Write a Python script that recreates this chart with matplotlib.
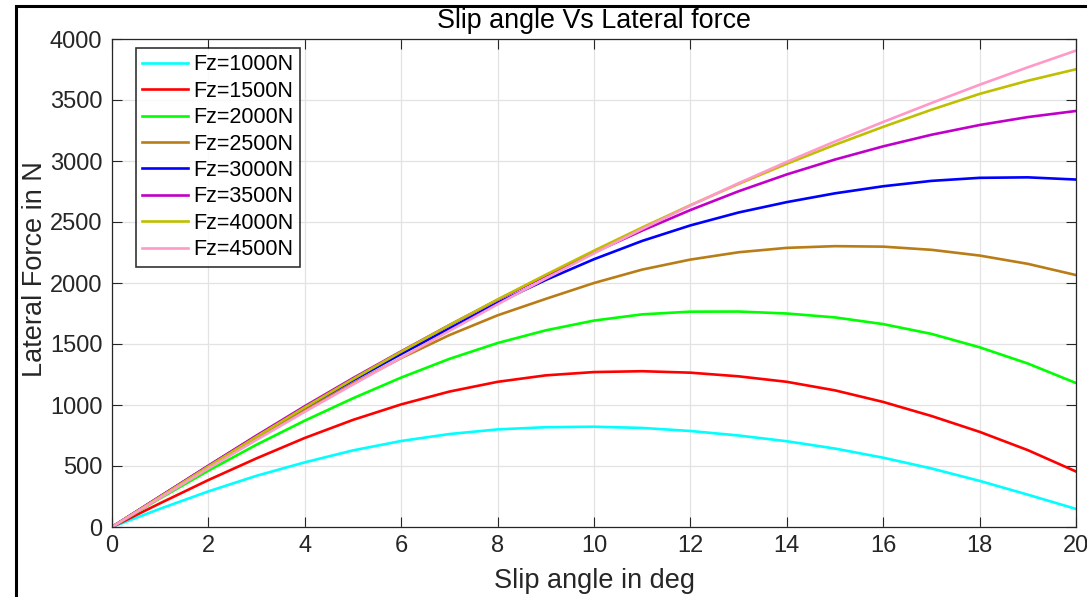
import numpy as np
import matplotlib
matplotlib.use("Agg")
import matplotlib.pyplot as plt
from matplotlib.patches import Rectangle

plt.rcParams['font.family'] = ['Liberation Sans', 'DejaVu Sans']

# slip angle in deg
slip = [0, 1, 2, 3, 4, 5, 6, 7, 8, 9, 10, 11, 12, 13, 14, 15, 16, 17, 18, 19, 20]

# lateral force in N for each vertical load
fy_1000 = [0, 150, 292, 420, 530, 628, 705, 762, 800, 818, 822, 812, 787, 750, 703, 643, 568, 480, 378, 265, 148]
fy_1500 = [0, 195, 385, 563, 730, 878, 1005, 1110, 1190, 1243, 1270, 1277, 1265, 1235, 1190, 1120, 1025, 910, 780, 630, 455]
fy_2000 = [0, 235, 462, 675, 872, 1055, 1225, 1378, 1508, 1612, 1692, 1743, 1765, 1766, 1750, 1718, 1663, 1583, 1473, 1340, 1180]
fy_2500 = [0, 248, 492, 730, 958, 1178, 1385, 1573, 1735, 1870, 2000, 2110, 2192, 2252, 2288, 2302, 2298, 2272, 2225, 2157, 2065]
fy_3000 = [0, 250, 500, 745, 980, 1203, 1418, 1628, 1838, 2025, 2195, 2345, 2472, 2578, 2663, 2735, 2793, 2837, 2862, 2866, 2848]
fy_3500 = [0, 252, 503, 750, 990, 1220, 1440, 1655, 1862, 2060, 2250, 2430, 2598, 2752, 2890, 3012, 3120, 3215, 3295, 3360, 3410]
fy_4000 = [0, 248, 496, 740, 980, 1212, 1437, 1655, 1865, 2068, 2265, 2455, 2638, 2812, 2977, 3133, 3280, 3420, 3550, 3658, 3752]
fy_4500 = [0, 240, 480, 715, 945, 1168, 1388, 1608, 1825, 2037, 2243, 2443, 2635, 2818, 2993, 3160, 3320, 3475, 3625, 3768, 3905]

labels = ['Fz=1000N', 'Fz=1500N', 'Fz=2000N', 'Fz=2500N',
          'Fz=3000N', 'Fz=3500N', 'Fz=4000N', 'Fz=4500N']
series = [fy_1000, fy_1500, fy_2000, fy_2500, fy_3000, fy_3500, fy_4000, fy_4500]
colors = ['#00ffff', '#ff0000', '#00ff00', '#b97d17',
          '#0000ff', '#c000c8', '#bfbf00', '#ff99c8']

fig = plt.figure(figsize=(10.87, 5.97), dpi=100)
ax = fig.add_axes([112 / 1087, 70 / 597, 964 / 1087, 488 / 597])

for fy, c, lab in zip(series, colors, labels):
    ax.plot(slip, fy, color=c, lw=1.9, label=lab)

ax.set_xlim(0, 20)
ax.set_ylim(0, 4000)
ax.set_xticks(np.arange(0, 21, 2))
ax.set_yticks(np.arange(0, 4001, 500))
ax.grid(True, color='#e3e3e3', lw=0.9)
ax.set_axisbelow(True)

ax.tick_params(direction='in', length=7, width=0.8, colors='#262626',
               labelsize=17, top=True, right=True)
ax.tick_params(axis='y', pad=7)
ax.tick_params(axis='x', pad=6)
for s in ax.spines.values():
    s.set_color('#262626')
    s.set_linewidth(0.9)

ax.set_title('Slip angle Vs Lateral force', fontsize=19.4, color='black', pad=8)
ax.set_xlabel('Slip angle in deg', fontsize=19.5, color='#262626', labelpad=8)
ax.set_ylabel('Lateral Force in N', fontsize=19.5, color='#262626')
ax.yaxis.set_label_coords(-0.066, 0.528)

leg = ax.legend(loc='upper left', bbox_to_anchor=(24 / 964, 1 - 9 / 488),
                fontsize=15.5, frameon=True, fancybox=False, handlelength=2.1,
                handletextpad=0.25, borderpad=0.3, labelspacing=0.25,
                borderaxespad=0)
leg.get_frame().set_edgecolor('black')
leg.get_frame().set_linewidth(1.2)

# black frame around the figure (cropped on right and bottom)
fig.patches.append(Rectangle((16 / 1087, -0.1), 1.2, (597 - 6) / 597 + 0.1,
                             transform=fig.transFigure, fill=False,
                             edgecolor='black', lw=2.2, clip_on=False))

fig.savefig('out.png', dpi=100)
